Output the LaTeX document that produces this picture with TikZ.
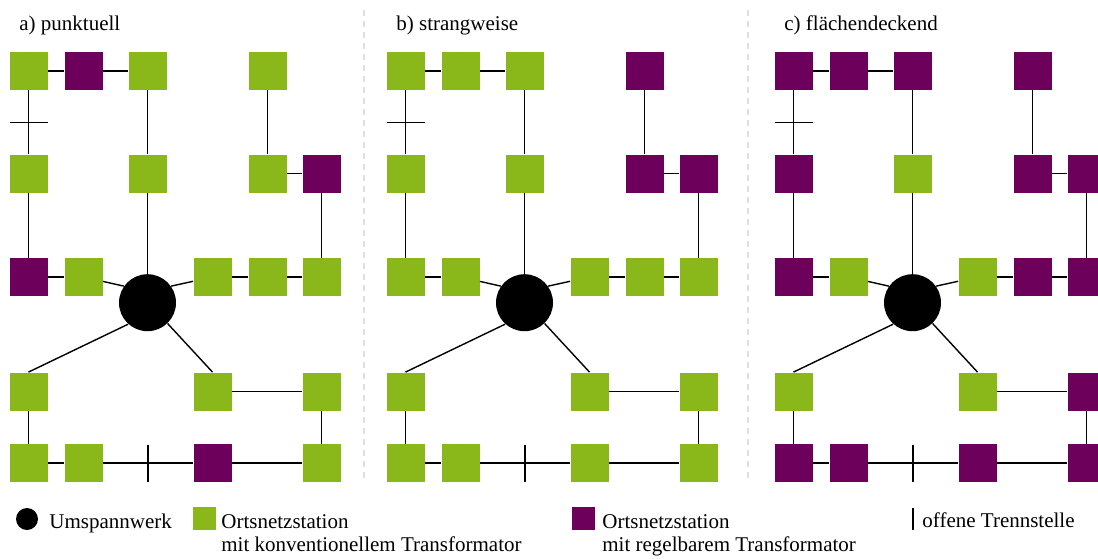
\documentclass[tikz,border=0pt]{standalone}
\usepackage{fontspec}
\setmainfont{Liberation Serif}
\usetikzlibrary{calc}
\definecolor{gruen}{HTML}{8AB81A}
\definecolor{lila}{HTML}{6C005A}
\tikzset{
  ons/.style={rectangle,fill=gruen,minimum size=19pt,inner sep=0pt},
  uw/.style={circle,fill=black,minimum size=28.5pt,inner sep=0pt},
  leitung/.style={line width=.7pt},
  trenn/.style={line width=.75pt},
  txt/.style={anchor=base west,inner sep=0pt,font=\fontsize{10.5}{12}\selectfont}
}
\begin{document}
\begin{tikzpicture}[x=.5pt,y=-.5pt]
  \useasboundingbox (0,0) rectangle (1098,558);
  \foreach \sx in {363.5,747.5}
    \draw[gray!25,line width=1pt,dash pattern=on 3pt off 2.5pt] (\sx,10) -- (\sx,483);
  \foreach \pn/\dx/\tit/\regl in {a/0/{a) punktuell}/{12,26,31,54},
      b/377/{b) strangweise}/{15,25,26},
      c/765/{c) flächendeckend}/{11,12,13,15,21,25,26,31,35,36,46,51,52,54,56}} {
    \begin{scope}[xshift=\dx*0.5pt]
      \node[txt] (\pn tit) at (19,30.5) {\tit};
      \node[uw] (\pn uw) at (147.5,302.7) {};
      \foreach \nm/\cx/\cy in {11/28.5/71,12/83.5/71,13/147.5/71,15/267.5/71,
          21/28.5/173.5,23/147.5/173.5,25/267.5/173.5,26/321.5/173.5,
          31/28.5/277,32/83.5/277,34/212.5/277,35/267.5/277,36/321.5/277,
          41/28.5/391.5,44/212.5/391.5,46/321.5/391.5,
          51/28.5/463,52/83.5/463,54/212.5/463,56/321.5/463} {
        \xdef\farbe{gruen}
        \foreach \k in \regl {\ifnum\k=\nm\relax\xdef\farbe{lila}\fi}
        \node[ons,fill=\farbe] (\pn\nm) at (\cx,\cy) {};
      }
      \foreach \von/\nach in {11/12,12/13,11/21,13/23,15/25,25/26,21/31,26/36,
          31/32,34/35,35/36,44/46,41/51,46/56,51/52,52/54,54/56,
          23/uw,32/uw.145,uw.35/34,uw.-132/41.north,uw.-46/44.north}
        \draw[leitung] (\pn\von) -- (\pn\nach);
      \draw[trenn] ($(\pn11)!.5!(\pn21)$) +(-19,0) -- +(19,0);
      \draw[trenn] ($(\pn52)!.5!(\pn54)$) +(0,-18.5) -- +(0,18.5);
    \end{scope}
  }
  \node[uw,minimum size=11pt] (luw) at (27,519) {};
  \node[txt] (luwt) at (49,528.3) {Umspannwerk};
  \node[ons,minimum size=11.5pt] (lkon) at (204,518.7) {};
  \node[txt] (lkont) at (221,528) {Ortsnetzstation};
  \node[txt] (lkonz) at (221,551) {mit konventionellem Transformator};
  \node[ons,fill=lila,minimum size=11.5pt] (lreg) at (583,518.7) {};
  \node[txt] (lregt) at (602,528) {Ortsnetzstation};
  \node[txt] (lregz) at (602,551) {mit regelbarem Transformator};
  \draw[trenn] (913,508) -- (913,530);
  \node[txt] (ltrt) at (922,527.5) {offene Trennstelle};
\end{tikzpicture}
\end{document}
